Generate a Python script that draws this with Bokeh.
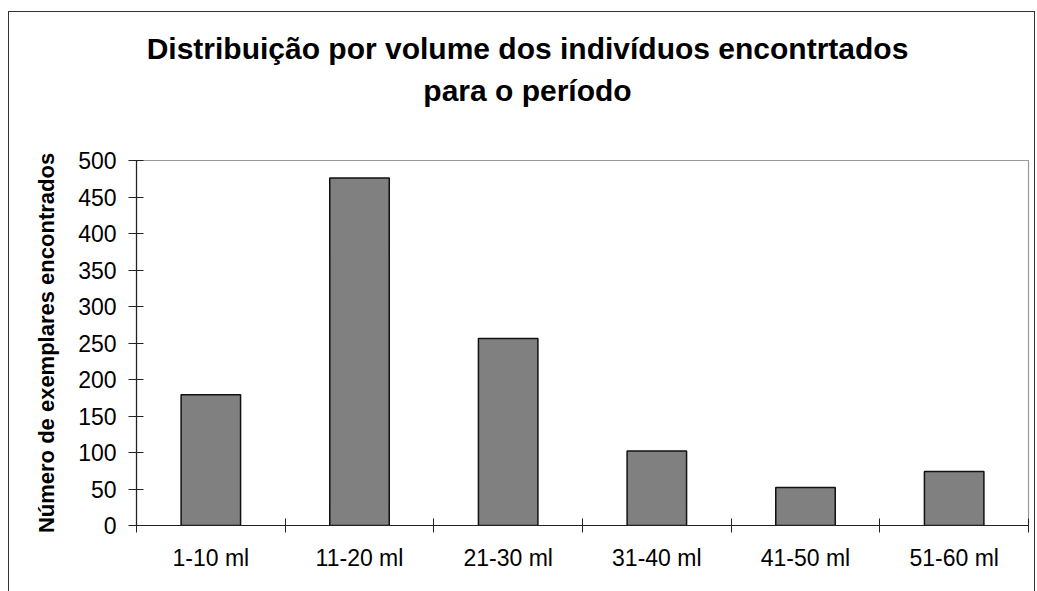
from bokeh.plotting import figure
from bokeh.layouts import column
from bokeh.models import ColumnDataSource, Range1d, FixedTicker
from bokeh.core.properties import value
from bokeh.embed import file_html
from bokeh.resources import INLINE

# Volume classes and number of specimens found in each
categories = ["1-10 ml", "11-20 ml", "21-30 ml", "31-40 ml", "41-50 ml", "51-60 ml"]
counts = [179, 476, 256, 102, 52, 74]
y_ticks = [0, 50, 100, 150, 200, 250, 300, 350, 400, 450, 500]
title_lines = ["Distribuição por volume dos indivíduos encontrtados", "para o período"]
y_label = "Número de exemplares encontrados"

FONT = "Liberation Sans"
W = 1037
TITLE_H = 130
LEFT, RIGHT = 136, 9          # borders shared by both stacked canvases

centers = [i + 0.5 for i in range(len(categories))]
bounds = list(range(len(categories) + 1))

# --- title strip: pixel-measured canvas (y grows downward) ---
head = figure(
    width=W, height=TITLE_H,
    x_range=Range1d(LEFT, W - RIGHT), y_range=Range1d(TITLE_H, 0),
    x_axis_location=None, y_axis_location=None,
    output_backend="svg", toolbar_location=None,
    min_border_left=LEFT, min_border_right=RIGHT,
    min_border_top=0, min_border_bottom=0,
)
head.title.visible = False
head.outline_line_color = None
head.xgrid.visible = False
head.ygrid.visible = False
head.background_fill_color = "white"
head.border_fill_color = "white"
head.text(
    x=[527, 527], y=[48, 90], text=title_lines,
    text_align="center", text_baseline="alphabetic",
    text_font=value(FONT), text_font_size="30px", text_font_style="bold",
    text_color="black",
)

# --- bar chart ---
source = ColumnDataSource(dict(x=centers, top=counts, name=categories))

p = figure(
    width=W, height=591 - TITLE_H,
    x_range=Range1d(0, len(categories)), y_range=Range1d(0, 500),
    output_backend="svg", toolbar_location=None,
    min_border_left=LEFT, min_border_right=RIGHT,
    min_border_top=160 - TITLE_H, min_border_bottom=66,
)
p.title.visible = False
p.background_fill_color = "white"
p.border_fill_color = "white"
p.outline_line_color = "#9a9a9a"
p.outline_line_width = 1.2

p.vbar(x="x", top="top", width=0.4, bottom=0, source=source,
       fill_color="#808080", line_color="#111111", line_width=1.5)

p.xgrid.visible = False
p.ygrid.visible = False

# x axis: labels under each class, tick marks on the class boundaries
xa = p.xaxis[0]
xa.ticker = FixedTicker(ticks=centers, minor_ticks=bounds)
xa.major_label_overrides = {c: n for c, n in zip(centers, categories)}
xa.major_tick_line_color = None
xa.minor_tick_in = 7
xa.minor_tick_out = 7
xa.minor_tick_line_color = "#222222"
xa.axis_line_color = "#222222"
xa.axis_line_width = 1.2
xa.major_label_text_font = FONT
xa.major_label_text_font_size = "23px"
xa.major_label_text_color = "black"
xa.major_label_standoff = 12

ya = p.yaxis[0]
ya.ticker = FixedTicker(ticks=y_ticks)
ya.minor_tick_line_color = None
ya.major_tick_in = 7
ya.major_tick_out = 8
ya.major_tick_line_color = "#222222"
ya.axis_line_color = "#222222"
ya.axis_line_width = 1.2
ya.major_label_text_font = FONT
ya.major_label_text_font_size = "23px"
ya.major_label_text_color = "black"
ya.major_label_standoff = 12
ya.axis_label = y_label
ya.axis_label_text_font = FONT
ya.axis_label_text_font_size = "22px"
ya.axis_label_text_font_style = "bold"
ya.axis_label_text_color = "black"
ya.axis_label_standoff = 16

page = column(head, p, spacing=0)
# outer chart border (left, top and right edges)
page.stylesheets = [
    ":host { position: relative; }",
    ":host::after { content: ''; position: absolute; left: 8px; top: 11px; "
    "width: 1027px; height: 600px; border: 1.5px solid #333; border-bottom: none; "
    "box-sizing: border-box; pointer-events: none; z-index: 10; }",
]

open("out.html", "w").write(file_html(page, INLINE))
